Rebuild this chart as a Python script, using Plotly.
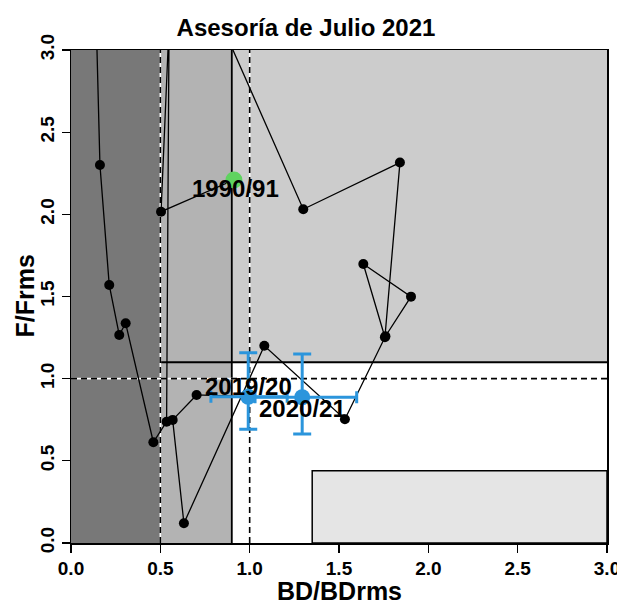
import plotly.graph_objects as go

# ---------------- data ----------------
# Trajectory of BD/BDrms (x) and F/Frms (y), first point = 1990/91,
# last two = 2019/20 and 2020/21. Some years lie above F/Frms = 3 (off-chart).
bd = [0.912, 0.504, 0.602, 0.110, 0.162, 0.214, 0.270, 0.306, 0.461, 0.535,
      0.553, 1.300, 1.841, 1.757, 1.636, 1.903, 1.760, 1.533, 1.082, 0.632,
      0.569, 0.703, 0.992, 1.294]
f = [2.209, 2.016, 4.500, 4.500, 2.300, 1.570, 1.266, 1.337, 0.613, 0.738,
     3.870, 2.031, 2.315, 1.252, 1.698, 1.499, 1.258, 0.753, 1.200, 0.120,
     0.749, 0.901, 0.890, 0.887]

# Recent years with confidence intervals
recent_labels = ["2019/20", "2020/21"]
recent_bd = [0.992, 1.294]
recent_f = [0.890, 0.887]
recent_bd_low = [0.783, 1.030]
recent_bd_high = [1.210, 1.599]
recent_f_low = [0.692, 0.663]
recent_f_high = [1.158, 1.150]

first_label = "1990/91"

x_ticks = [0.0, 0.5, 1.0, 1.5, 2.0, 2.5, 3.0]
y_ticks = [0.0, 0.5, 1.0, 1.5, 2.0, 2.5, 3.0]

# reference levels
bd_lim, bd_ref, bd_mid = 0.5, 1.0, 0.9
f_ref, f_mid = 1.0, 1.1
box_low_x, box_low_y = 1.35, 0.44

FONT = "Liberation Sans, Arial, sans-serif"
BLUE = "#2b95dc"
GREEN = "#5fd35f"

fig = go.Figure()

# ---------------- background regions ----------------
shapes = []
shapes.append(dict(type="rect", xref="x", yref="y", x0=0, x1=bd_lim, y0=0, y1=3,
                   fillcolor="#787878", line=dict(width=0), layer="below"))
shapes.append(dict(type="rect", xref="x", yref="y", x0=bd_lim, x1=bd_mid, y0=0, y1=3,
                   fillcolor="#b3b3b3", line=dict(width=0), layer="below"))
shapes.append(dict(type="rect", xref="x", yref="y", x0=bd_mid, x1=3, y0=f_mid, y1=3,
                   fillcolor="#cccccc", line=dict(width=0), layer="below"))
shapes.append(dict(type="rect", xref="x", yref="y", x0=box_low_x, x1=3, y0=0, y1=box_low_y,
                   fillcolor="#e5e5e5", line=dict(color="black", width=1.5), layer="below"))
# solid boundary lines
shapes.append(dict(type="line", xref="x", yref="y", x0=bd_mid, x1=bd_mid, y0=0, y1=3,
                   line=dict(color="black", width=1.8), layer="below"))
shapes.append(dict(type="line", xref="x", yref="y", x0=bd_lim, x1=3, y0=f_mid, y1=f_mid,
                   line=dict(color="black", width=1.8), layer="below"))
# dashed reference lines (white underlay + black dashes)
for (x0, x1, y0, y1) in [(bd_lim, bd_lim, 0, 3), (bd_ref, bd_ref, 0, 3), (0, 3, f_ref, f_ref)]:
    shapes.append(dict(type="line", xref="x", yref="y", x0=x0, x1=x1, y0=y0, y1=y1,
                       line=dict(color="white", width=1.6), layer="below"))
    shapes.append(dict(type="line", xref="x", yref="y", x0=x0, x1=x1, y0=y0, y1=y1,
                       line=dict(color="black", width=1.6, dash="6px,4px"), layer="below"))

# ---------------- traces ----------------
fig.add_trace(go.Scatter(x=bd, y=f, mode="lines+markers",
                         line=dict(color="black", width=1.3),
                         marker=dict(color="black", size=10),
                         cliponaxis=True, showlegend=False, hoverinfo="skip"))

fig.add_trace(go.Scatter(x=[bd[0]], y=[f[0]], mode="markers",
                         marker=dict(color=GREEN, size=17),
                         showlegend=False, hoverinfo="skip"))

fig.add_trace(go.Scatter(
    x=recent_bd, y=recent_f, mode="markers",
    marker=dict(color=BLUE, size=16),
    error_y=dict(type="data", symmetric=False,
                 array=[h - c for h, c in zip(recent_f_high, recent_f)],
                 arrayminus=[c - l for l, c in zip(recent_f_low, recent_f)],
                 color=BLUE, thickness=3, width=9),
    error_x=dict(type="data", symmetric=False,
                 array=[h - c for h, c in zip(recent_bd_high, recent_bd)],
                 arrayminus=[c - l for l, c in zip(recent_bd_low, recent_bd)],
                 color=BLUE, thickness=3, width=6),
    showlegend=False, hoverinfo="skip"))

# ---------------- labels ----------------
annotations = []
lab_font = dict(family=FONT, size=24, color="black", weight="bold")
annotations.append(dict(x=bd[0], y=f[0], xref="x", yref="y", text=first_label,
                        showarrow=False, font=lab_font, yshift=-9, xshift=2))
annotations.append(dict(x=recent_bd[0], y=recent_f[0], xref="x", yref="y", text=recent_labels[0],
                        showarrow=False, font=lab_font, yshift=10))
annotations.append(dict(x=recent_bd[1], y=recent_f[1], xref="x", yref="y", text=recent_labels[1],
                        showarrow=False, font=lab_font, yshift=-11))
# axis titles
annotations.append(dict(x=0.5, y=(543 - 591) / 493, xref="paper", yref="paper",
                        text="BD/BDrms", showarrow=False, yanchor="middle",
                        font=dict(family=FONT, size=25, color="black", weight="bold")))
annotations.append(dict(x=(24 - 71) / 536, y=0.5, xref="paper", yref="paper",
                        text="F/Frms", showarrow=False, textangle=-90, xanchor="center",
                        font=dict(family=FONT, size=25, color="black", weight="bold")))

fig.update_layout(
    width=617, height=600,
    margin=dict(l=71, r=10, t=50, b=57, autoexpand=False),
    paper_bgcolor="white", plot_bgcolor="white",
    shapes=shapes, annotations=annotations,
    title=dict(text="Asesoría de Julio 2021", x=306 / 617, y=1 - 28 / 600,
               xref="container", yref="container", xanchor="center", yanchor="middle",
               font=dict(family=FONT, size=24, color="black", weight="bold")),
    xaxis=dict(range=[0, 3], tickvals=x_ticks, ticktext=[f"{v:.1f}" for v in x_ticks],
               showgrid=False, zeroline=False, showline=True, mirror=True,
               linecolor="black", linewidth=1.5, ticks="outside", ticklen=8,
               tickwidth=1.3, tickcolor="black", automargin=False,
               ticklabeloverflow="allow",
               tickfont=dict(family=FONT, size=19, color="black", weight="bold")),
    yaxis=dict(range=[0, 3], tickvals=y_ticks, ticktext=[f"{v:.1f}" for v in y_ticks],
               showgrid=False, zeroline=False, showline=True, mirror=True,
               linecolor="black", linewidth=1.5, ticks="outside", ticklen=8,
               tickwidth=1.3, tickcolor="black", tickangle=-90, automargin=False,
               ticklabeloverflow="allow",
               tickfont=dict(family=FONT, size=19, color="black", weight="bold")),
)

fig.write_html("out.html", config={"displayModeBar": False, "staticPlot": True},
               post_script="document.body.style.margin='0';document.body.style.overflow='hidden';")
